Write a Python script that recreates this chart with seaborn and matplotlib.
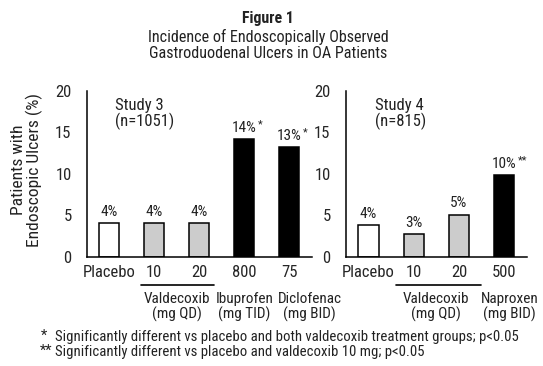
import numpy as np
import pandas as pd
import matplotlib
matplotlib.use("Agg")
import matplotlib.pyplot as plt
import matplotlib.transforms as mtransforms
from matplotlib import font_manager
import seaborn as sns

# ---------------- data ----------------
study3_doses = ["Placebo", "10", "20", "800", "75"]
study3_pct = [4.1, 4.1, 4.1, 14.2, 13.2]
study3_text = ["4%", "4%", "4%", "14%", "13%"]
study3_marks = ["", "", "", "*", "*"]
study3_kind = ["placebo", "valdecoxib", "valdecoxib", "nsaid", "nsaid"]
study3_groups = ["Valdecoxib\n(mg QD)", "Ibuprofen\n(mg TID)", "Diclofenac\n(mg BID)"]

study4_doses = ["Placebo", "10", "20", "500"]
study4_pct = [3.8, 2.8, 5.1, 9.9]
study4_text = ["4%", "3%", "5%", "10%"]
study4_marks = ["", "", "", "**"]
study4_kind = ["placebo", "valdecoxib", "valdecoxib", "nsaid"]
study4_groups = ["Valdecoxib\n(mg QD)", "Naproxen\n(mg BID)"]

colors = {"placebo": "white", "valdecoxib": "#cccccc", "nsaid": "black"}

# ---------------- style ----------------
sns.set_style("white")
available = {f.name for f in font_manager.fontManager.ttflist}
family = "DejaVu Sans"
for cand in ["Liberation Sans Narrow", "DejaVu Sans Condensed", "Roboto Condensed", "Liberation Sans"]:
    if cand in available:
        family = cand
        break
plt.rcParams["font.family"] = [family, "DejaVu Sans"]
plt.rcParams["text.color"] = "#222222"

fig = plt.figure(figsize=(5.43, 3.66), dpi=100)
ax3 = fig.add_axes([0.160, 0.298, 0.414, 0.454])
ax4 = fig.add_axes([0.637, 0.298, 0.333, 0.454])


def draw_panel(ax, doses, pct, text, marks, kind):
    df = pd.DataFrame({"dose": doses, "pct": pct, "kind": kind})
    sns.barplot(data=df, x="dose", y="pct", hue="kind", palette=colors, order=doses,
                dodge=False, width=0.45, edgecolor="black", linewidth=1.1,
                saturation=1, legend=False, ax=ax)
    n = len(doses)
    for i, (v, t, m) in enumerate(zip(pct, text, marks)):
        lab = ax.annotate(t, (i, v), xytext=(0, 3), textcoords="offset points",
                          ha="center", va="bottom", fontsize=11)
        if m:
            ax.annotate(m, xy=(1, 1), xycoords=lab, xytext=(1, 1), textcoords="offset points",
                        ha="left", va="top", fontsize=8)
    ax.set_ylim(0, 20)
    ax.set_xlim(-0.5, n - 0.5)
    ax.set_yticks([0, 5, 10, 15, 20])
    # ticks at the category borders, labels at the centres
    ax.set_xticks(np.arange(-0.5, n, 1))
    ax.set_xticklabels([])
    ax.set_xticks(np.arange(n), minor=True)
    ax.set_xticklabels(doses, minor=True)
    ax.tick_params(axis="x", which="major", direction="inout", length=8, width=1.1, color="black")
    ax.tick_params(axis="x", which="minor", length=0, pad=5.5, labelsize=12)
    ax.tick_params(axis="y", direction="out", length=5, width=1.1, pad=6, labelsize=12, color="black")
    ax.set_xlabel("")
    ax.set_ylabel("")
    sns.despine(ax=ax)
    for s in ["left", "bottom"]:
        ax.spines[s].set_linewidth(1.1)
        ax.spines[s].set_color("black")


draw_panel(ax3, study3_doses, study3_pct, study3_text, study3_marks, study3_kind)
draw_panel(ax4, study4_doses, study4_pct, study4_text, study4_marks, study4_kind)

ax3.text(0.12, 17.2, "Study 3\n(n=1051)", ha="left", va="center", fontsize=12, linespacing=1.0)
ax4.text(0.14, 17.2, "Study 4\n(n=815)", ha="left", va="center", fontsize=12, linespacing=1.0)

# drug group labels below the dose labels
for ax, groups, pos, line in [(ax3, study3_groups, [1.5, 3.0, 4.45], (0.7, 2.33)),
                              (ax4, study4_groups, [1.5, 3.12], (0.6, 2.48))]:
    blend = mtransforms.blended_transform_factory(ax.transData, fig.transFigure)
    ax.plot(line, [1 - 285 / 366] * 2, transform=blend, color="black", lw=1.2, clip_on=False)
    for g, x in zip(groups, pos):
        ax.text(x, 1 - 307 / 366, g, transform=blend, ha="center", va="center",
                fontsize=11, linespacing=1.05)

fig.text(0.05, 1 - 170 / 366, "Patients with\nEndoscopic Ulcers (%)", rotation=90,
         ha="center", va="center", fontsize=12.6, linespacing=1.0)

fig.text(0.494, 1 - 18 / 366, "Figure 1", ha="center", va="center", fontsize=11.4, fontweight="bold")
fig.text(0.494, 1 - 45 / 366, "Incidence of Endoscopically Observed\nGastroduodenal Ulcers in OA Patients",
         ha="center", va="center", fontsize=11.6, linespacing=1.05)

fig.text(41 / 543, 1 - 336 / 366, "*", ha="left", va="center", fontsize=10.6)
fig.text(55 / 543, 1 - 337 / 366,
         "Significantly different vs placebo and both valdecoxib treatment groups; p<0.05",
         ha="left", va="center", fontsize=10.6)
fig.text(40 / 543, 1 - 351 / 366, "**", ha="left", va="center", fontsize=10.6)
fig.text(55 / 543, 1 - 352 / 366,
         "Significantly different vs placebo and valdecoxib 10 mg; p<0.05",
         ha="left", va="center", fontsize=10.6)

fig.savefig("out.png", dpi=100)
